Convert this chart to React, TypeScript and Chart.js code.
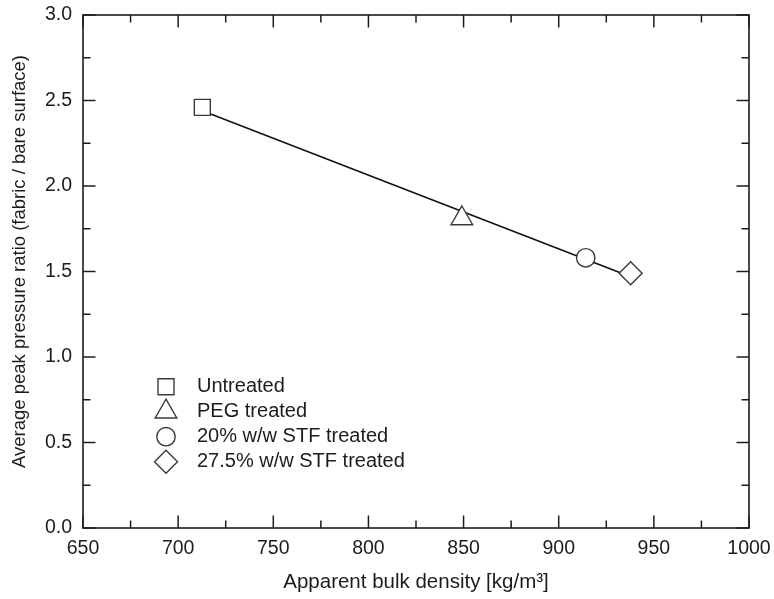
import { useEffect, useRef } from 'react';
import { Chart, registerables } from 'chart.js';
import { drawPoint } from 'chart.js/helpers';

Chart.register(...registerables);

// Measured samples
const seriesLabels = ['Untreated', 'PEG treated', '20% w/w STF treated', '27.5% w/w STF treated'];
const bulkDensity = [712.7, 849.1, 914.2, 937.8];
const pressureRatio = [2.46, 1.81, 1.58, 1.49];

// Linear fit through the samples (end points)
const fitDensity = [712.7, 937.8];
const fitRatio = [2.44, 1.47];

// Axis ticks
const xMajorTicks = [650, 700, 750, 800, 850, 900, 950, 1000];
const xMinorTicks = [675, 725, 775, 825, 875, 925, 975];
const yMajorTicks = [0, 0.5, 1.0, 1.5, 2.0, 2.5, 3.0];
const yMinorTicks = [0.25, 0.75, 1.25, 1.75, 2.25, 2.75];

const xAxisTitle = 'Apparent bulk density [kg/m³]';
const yAxisTitle = 'Average peak pressure ratio (fabric / bare surface)';

const FONT = '"Liberation Sans", Arial, Helvetica, sans-serif';
const INK = '#1c1c1c';
const MARKER_INK = '#3a3a3a';

const markerShapes = ['rect', 'triangle', 'circle', 'rectRot'];
const markerRadii = [11.3, 12.5, 9.2, 11.5];

// Scales keep their fixed box sizes; no extra label overhang padding
const clearScalePadding = (s: any) => {
  s.paddingTop = 0;
  s.paddingBottom = 0;
  s.paddingLeft = 0;
  s.paddingRight = 0;
};

// Box frame with inward major/minor ticks on all four sides
const framePlugin = {
  id: 'frameTicks',
  beforeDatasetsDraw(chart: any) {
    const { ctx, chartArea: a, scales } = chart;
    const xs = scales.x;
    const ys = scales.y;
    ctx.save();
    ctx.strokeStyle = INK;
    ctx.lineWidth = 1.6;
    ctx.lineCap = 'butt';
    ctx.strokeRect(a.left, a.top, a.right - a.left, a.bottom - a.top);
    const major = 12.5;
    const minor = 7.5;
    const tick = (x1: number, y1: number, x2: number, y2: number) => {
      ctx.beginPath();
      ctx.moveTo(x1, y1);
      ctx.lineTo(x2, y2);
      ctx.stroke();
    };
    ctx.lineWidth = 1.5;
    const xTick = (v: number, len: number) => {
      const px = xs.getPixelForValue(v);
      tick(px, a.bottom, px, a.bottom - len);
      tick(px, a.top, px, a.top + len);
    };
    const yTick = (v: number, len: number) => {
      const py = ys.getPixelForValue(v);
      tick(a.left, py, a.left + len, py);
      tick(a.right, py, a.right - len, py);
    };
    xMajorTicks.forEach((v) => xTick(v, major));
    xMinorTicks.forEach((v) => xTick(v, minor));
    yMajorTicks.forEach((v) => yTick(v, major));
    yMinorTicks.forEach((v) => yTick(v, minor));

    // Vertical axis title, rotated, sitting slightly above the plot's middle
    ctx.save();
    ctx.fillStyle = INK;
    ctx.font = `18.5px ${FONT}`;
    ctx.textAlign = 'center';
    ctx.textBaseline = 'middle';
    ctx.translate(20, (a.top + a.bottom) / 2 - 10);
    ctx.rotate(-Math.PI / 2);
    ctx.fillText(yAxisTitle, 0, 0);
    ctx.restore();
    ctx.restore();
  },
};

// Marker legend inside the plot, lower left
const legendPlugin = {
  id: 'markerLegend',
  afterDatasetsDraw(chart: any) {
    const { ctx, chartArea: a } = chart;
    const markerX = a.left + 83;
    const textX = a.left + 114;
    const firstRowY = a.top + 371.7;
    const rowGap = 25;
    ctx.save();
    ctx.font = `20px ${FONT}`;
    ctx.textBaseline = 'middle';
    ctx.textAlign = 'left';
    seriesLabels.forEach((label, i) => {
      const y = firstRowY + i * rowGap;
      ctx.fillStyle = '#ffffff';
      ctx.strokeStyle = MARKER_INK;
      ctx.lineWidth = 1.4;
      drawPoint(ctx, { pointStyle: markerShapes[i], radius: markerRadii[i], borderWidth: 1.4, rotation: 0 }, markerX, y);
      ctx.fillStyle = INK;
      ctx.fillText(label, textX, y);
    });
    ctx.restore();
  },
};

export default function App() {
  const canvasRef = useRef<HTMLCanvasElement | null>(null);

  useEffect(() => {
    const canvas = canvasRef.current;
    if (!canvas) return;

    const pointSets = seriesLabels.map((label, i) => ({
      type: 'scatter' as const,
      label,
      data: [{ x: bulkDensity[i], y: pressureRatio[i] }],
      pointStyle: markerShapes[i],
      pointRadius: markerRadii[i],
      pointHoverRadius: markerRadii[i],
      pointBackgroundColor: '#ffffff',
      pointBorderColor: MARKER_INK,
      pointBorderWidth: 1.4,
      showLine: false,
      order: 1,
    }));

    const fitSet = {
      type: 'line' as const,
      label: 'Linear fit',
      data: fitDensity.map((x, i) => ({ x, y: fitRatio[i] })),
      borderColor: '#111111',
      borderWidth: 1.6,
      pointRadius: 0,
      showLine: true,
      fill: false,
      tension: 0,
      order: 10,
    };

    const chart = new Chart(canvas, {
      type: 'scatter',
      data: { datasets: [...pointSets, fitSet] as any },
      options: {
        responsive: false,
        animation: false,
        devicePixelRatio: 1,
        layout: { padding: { left: 0, right: 25, top: 15, bottom: 0 } },
        plugins: {
          legend: { display: false },
          tooltip: { enabled: false },
        },
        scales: {
          x: {
            type: 'linear',
            min: 650,
            max: 1000,
            afterFit: (s: any) => {
              s.height = 71;
              clearScalePadding(s);
            },
            afterBuildTicks: (s: any) => {
              s.ticks = xMajorTicks.map((value) => ({ value }));
            },
            grid: { display: false, drawTicks: false },
            border: { display: false },
            ticks: {
              padding: 9,
              color: INK,
              font: { family: FONT, size: 19.5 },
              maxRotation: 0,
              callback: (v: any) => String(v),
            },
            title: {
              display: true,
              text: xAxisTitle,
              color: INK,
              font: { family: FONT, size: 20.5 },
              padding: { top: 0, bottom: 4 },
            },
          },
          y: {
            type: 'linear',
            min: 0,
            max: 3,
            afterFit: (s: any) => {
              s.width = 83;
              clearScalePadding(s);
            },
            afterBuildTicks: (s: any) => {
              s.ticks = yMajorTicks.map((value) => ({ value }));
            },
            grid: { display: false, drawTicks: false },
            border: { display: false },
            ticks: {
              padding: 11,
              color: INK,
              font: { family: FONT, size: 19.5 },
              callback: (v: any) => Number(v).toFixed(1),
            },
            title: { display: false },
          },
        },
      },
      plugins: [framePlugin, legendPlugin],
    });

    return () => chart.destroy();
  }, []);

  return (
    <div style={{ position: 'absolute', left: 0, top: 0, width: 774, height: 599, background: '#ffffff' }}>
      <canvas ref={canvasRef} width={774} height={599} />
    </div>
  );
}
